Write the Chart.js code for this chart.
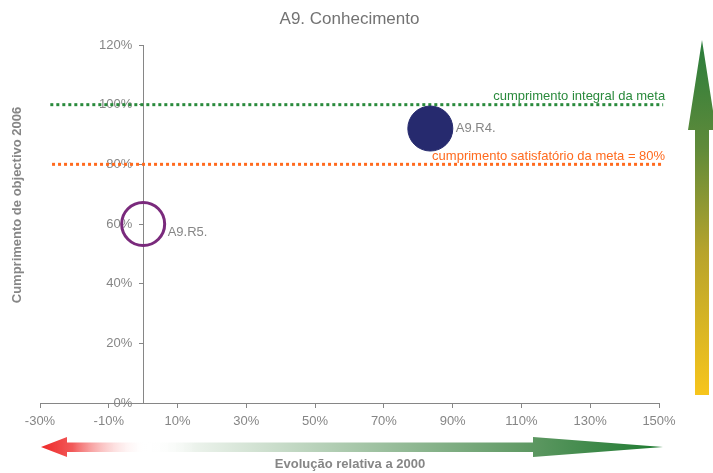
<!DOCTYPE html>
<html>
<head>
<meta charset="utf-8">
<title>A9. Conhecimento</title>
<script src="https://cdn.jsdelivr.net/npm/chart.js"></script>
<style>
  body { margin: 0; background: #fff; }
  #wrap { width: 713px; height: 473px; }
</style>
<script>
// values
var bubbleNames = ['A9.R4.', 'A9.R5.'];
var bubbleX = [83.5, 0];          // Evolução relativa a 2000 (%)
var bubbleY = [92, 60];           // Cumprimento de objectivo 2006 (%)
var bubbleSize = [22.5, 21.5];
var goalNames = ['cumprimento integral da meta', 'cumprimento satisfatório da meta = 80%'];
var goalValues = [100, 80];
var goalFrom = [-27, -26.5];
var goalTo = [151.2, 151.2];
var xTicks = [-30, -10, 10, 30, 50, 70, 90, 110, 130, 150];
var yTicks = [0, 20, 40, 60, 80, 100, 120];

var grey = '#868686';
var green = '#2a8a3c';
var orange = '#ff6a1e';

window.onload = function() {
  Chart.defaults.font.family = 'Liberation Sans, Arial, sans-serif';
  Chart.defaults.color = grey;

  // arrows, axis titles and labels
  var extras = {
    id: 'extras',
    beforeDatasetsDraw: function(chart) {
      var c = chart.ctx;
      c.save();
      // horizontal arrow
      var g = c.createLinearGradient(41, 0, 663, 0);
      g.addColorStop(0, 'rgba(238,40,40,1)');
      g.addColorStop(0.05, 'rgba(240,70,70,0.9)');
      g.addColorStop(0.17, 'rgba(255,255,255,0)');
      g.addColorStop(0.25, 'rgba(235,242,235,1)');
      g.addColorStop(0.8, '#5a965f');
      g.addColorStop(1, '#1d7a30');
      c.fillStyle = g;
      c.beginPath();
      c.moveTo(41, 447);
      c.lineTo(67, 437);
      c.lineTo(67, 442.5);
      c.lineTo(533, 442.5);
      c.lineTo(533, 437);
      c.lineTo(663, 447);
      c.lineTo(533, 457);
      c.lineTo(533, 452);
      c.lineTo(67, 452);
      c.lineTo(67, 457);
      c.closePath();
      c.fill();
      // vertical arrow
      var v = c.createLinearGradient(0, 40, 0, 395);
      v.addColorStop(0, '#2a7d3c');
      v.addColorStop(0.3, '#5e8a3a');
      v.addColorStop(0.6, '#b8a42c');
      v.addColorStop(1, '#f7c51c');
      c.fillStyle = v;
      c.beginPath();
      c.moveTo(702, 40);
      c.lineTo(716, 130);
      c.lineTo(709, 130);
      c.lineTo(709, 395);
      c.lineTo(695, 395);
      c.lineTo(695, 130);
      c.lineTo(688, 130);
      c.closePath();
      c.fill();
      c.restore();
    },
    afterDraw: function(chart) {
      var c = chart.ctx;
      var xs = chart.scales.x, ys = chart.scales.y;
      c.save();
      c.font = 'bold 13px Liberation Sans, Arial, sans-serif';
      c.fillStyle = grey;
      c.textAlign = 'center';
      c.textBaseline = 'middle';
      c.fillText('Evolução relativa a 2000', 350, 464);
      c.translate(17, 205);
      c.rotate(-Math.PI / 2);
      c.fillText('Cumprimento de objectivo 2006', 0, 0);
      c.restore();

      c.save();
      c.font = '13px Liberation Sans, Arial, sans-serif';
      c.textBaseline = 'middle';
      c.textAlign = 'right';
      var goalColors = [green, orange];
      for (var i = 0; i < goalNames.length; i++) {
        c.fillStyle = goalColors[i];
        c.fillText(goalNames[i], xs.getPixelForValue(goalTo[i]) + 2, ys.getPixelForValue(goalValues[i]) - 8);
      }
      c.textAlign = 'left';
      c.fillStyle = grey;
      var dy = [0, 8];
      for (var j = 0; j < bubbleNames.length; j++) {
        var px = xs.getPixelForValue(bubbleX[j]);
        var py = ys.getPixelForValue(bubbleY[j]);
        c.fillText(bubbleNames[j], px + bubbleSize[j] + 3, py + dy[j]);
      }
      c.restore();
    }
  };

  var ctx = document.getElementById('myChart');
  new Chart(ctx, {
    type: 'bubble',
    data: {
      datasets: [{
        label: bubbleNames[0],
        data: [{x: bubbleX[0], y: bubbleY[0], r: bubbleSize[0]}],
        backgroundColor: '#262a6e',
        borderColor: '#262a6e',
        borderWidth: 1
      }, {
        label: bubbleNames[1],
        data: [{x: bubbleX[1], y: bubbleY[1], r: bubbleSize[1]}],
        backgroundColor: 'rgba(0,0,0,0)',
        borderColor: '#7a2a7c',
        borderWidth: 3
      }, {
        type: 'line',
        label: goalNames[0],
        data: [{x: goalFrom[0], y: goalValues[0]}, {x: goalTo[0], y: goalValues[0]}],
        borderColor: green,
        borderWidth: 3,
        borderDash: [3, 3],
        pointRadius: 0,
        clip: false
      }, {
        type: 'line',
        label: goalNames[1],
        data: [{x: goalFrom[1], y: goalValues[1]}, {x: goalTo[1], y: goalValues[1]}],
        borderColor: orange,
        borderWidth: 3,
        borderDash: [3, 3],
        pointRadius: 0,
        clip: false
      }]
    },
    options: {
      responsive: false,
      animation: false,
      devicePixelRatio: 1,
      layout: { padding: { left: 40, right: 54, top: 0, bottom: 0 } },
      plugins: {
        legend: { display: false },
        tooltip: { enabled: false },
        title: {
          display: true,
          text: 'A9. Conhecimento',
          color: '#737373',
          font: { size: 17, weight: 'normal' },
          padding: { top: 9, bottom: 15.6 }
        }
      },
      scales: {
        x: {
          type: 'linear',
          min: -30,
          max: 150,
          afterBuildTicks: function(s) { s.ticks = xTicks.map(function(v) { return {value: v}; }); },
          afterFit: function(s) { s.height = 70; },
          grid: { drawOnChartArea: false, drawTicks: true, tickLength: 5, color: grey },
          border: { color: grey, width: 1 },
          ticks: { padding: 6, font: { size: 13 }, color: grey, callback: function(v) { return v + '%'; } }
        },
        y: {
          type: 'linear',
          position: { x: 0 },
          min: 0,
          max: 120,
          afterBuildTicks: function(s) { s.ticks = yTicks.map(function(v) { return {value: v}; }); },
          grid: { drawOnChartArea: false, drawTicks: true, tickLength: 4, color: grey },
          border: { color: grey, width: 1 },
          // labels sit at the axis line when it is placed at x = 0, so pad them with spaces
          ticks: { padding: 8, font: { size: 13 }, color: grey, callback: function(v) { return v + '%   '; } }
        }
      }
    },
    plugins: [extras]
  });
};
</script>
</head>
<body>
<div id="wrap"><canvas id="myChart" width="713" height="473"></canvas></div>
</body>
</html>
